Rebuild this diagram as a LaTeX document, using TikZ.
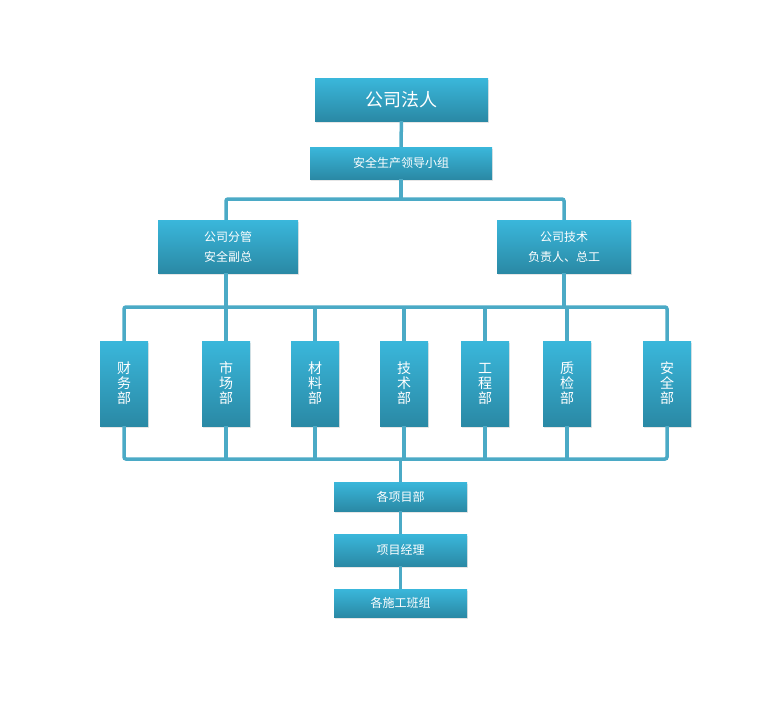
\documentclass[tikz,border=0pt]{standalone}
\usepackage{fontspec}
\setmainfont{Noto Sans CJK SC}
\usetikzlibrary{shadows}
\definecolor{boxtop}{HTML}{3AB7DB}
\definecolor{boxbot}{HTML}{2A89A5}
\definecolor{linkc}{HTML}{4BAAC6}

\begin{document}
\begin{tikzpicture}[x=1pt,y=-1pt,
    box/.style={text=white,font=\fontsize{12}{20}\selectfont,inner sep=0pt,align=center,
        top color=boxtop,bottom color=boxbot,
        drop shadow={opacity=0.2,shadow xshift=0.5pt,shadow yshift=-2pt}},
    dept/.style={box,minimum width=48pt,minimum height=85pt,font=\fontsize{14}{15}\selectfont},
    low/.style={box,minimum width=133pt},
    link/.style={draw=linkc,line width=3.5pt,rounded corners=2pt}
]
\useasboundingbox (0,0) rectangle (777,724);

\node[box,minimum width=173pt,minimum height=43pt,font=\fontsize{18}{20}\selectfont] (law) at (401.5,99.5) {公司法人};
\node[box,minimum width=182pt,minimum height=32pt] (lead) at (401,163) {安全生产领导小组};
\node[box,minimum width=140pt,minimum height=53pt] (vp) at (228,246.5) {公司分管\\安全副总};
\node[box,minimum width=134pt,minimum height=53pt] (cto) at (564,246.5) {公司技术\\负责人、总工};

\foreach \x/\a/\b [count=\i] in {124/财/务,226/市/场,315/材/料,404/技/术,485/工/程,567/质/检,667/安/全}
    \node[dept] (d\i) at (\x,383.5) {\a\\\b\\部};

\node[low,minimum height=29pt] (proj) at (400.5,496.5) {各项目部};
\node[low,minimum height=32pt] (pm) at (400.5,550) {项目经理};
\node[low,minimum height=28pt] (team) at (400.5,603) {各施工班组};

% bus lines
\coordinate (b1) at (401,199);
\coordinate (b2) at (0,307);
\coordinate (b3) at (0,459);

\draw[link] (law) -- (lead);
\draw[link] (lead) -- (b1);
\draw[link] (vp.north -| 226,0) |- (b1) -| (cto.north);
\draw[link] (vp.south -| 226,0) -- (226,307);
\draw[link] (cto.south) -- (cto.south |- b2);
\draw[link] (d1.north) -- (d1.north |- b2) -- (d7.north |- b2) -- (d7.north);
\draw[link] (d1.south) -- (d1.south |- b3) -- (d7.south |- b3) -- (d7.south);
\foreach \i in {2,...,6} {
    \draw[link] (d\i.north) -- (d\i.north |- b2);
    \draw[link] (d\i.south) -- (d\i.south |- b3);
}
\draw[link] (proj.north |- b3) -- (proj);
\draw[link] (proj) -- (pm);
\draw[link] (pm) -- (team);
\end{tikzpicture}
\end{document}
